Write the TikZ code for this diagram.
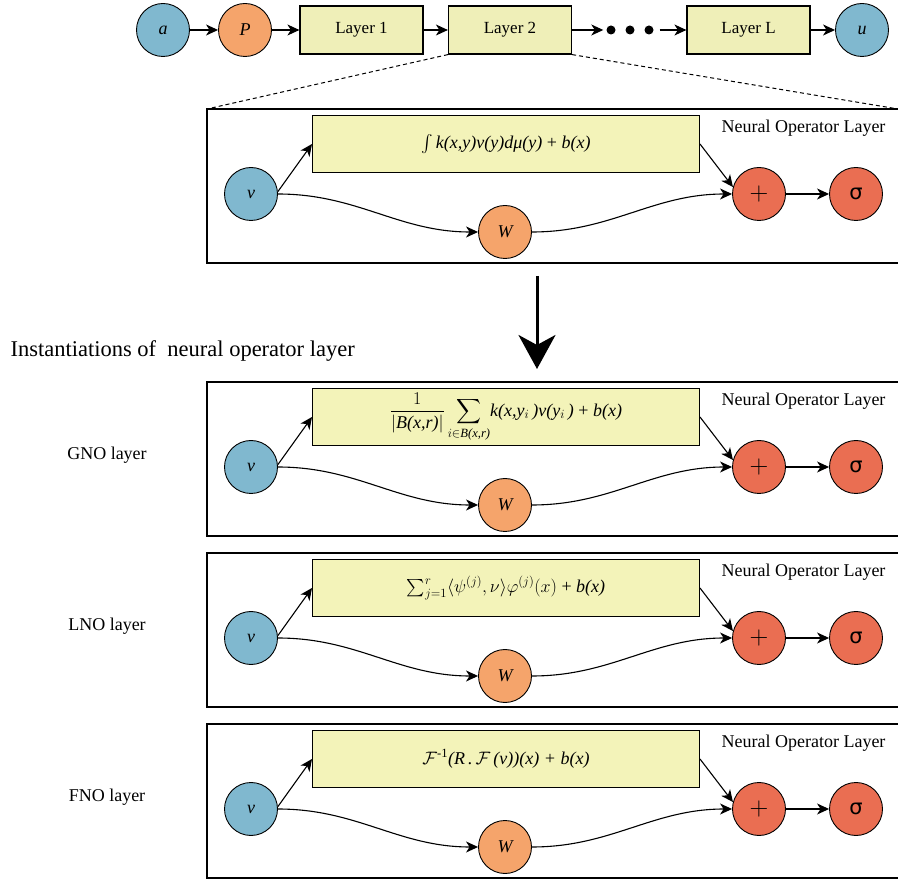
\RequirePackage{fix-cm}
\documentclass[tikz,border=0pt]{standalone}
\usepackage{amsmath}
\usepackage{fontspec}
\setmainfont{Liberation Serif}
\newfontfamily\symfont{DejaVu Sans}
\usetikzlibrary{arrows.meta}
\definecolor{cblue}{RGB}{128,184,207}
\definecolor{corange}{RGB}{245,164,107}
\definecolor{cyellow}{RGB}{239,239,184}
\definecolor{cyellow2}{RGB}{243,243,185}
\definecolor{cred}{RGB}{234,110,82}
\tikzset{
  circ/.style={circle, draw=black, line width=0.9pt, minimum size=53pt, inner sep=0pt, font=\fontsize{18}{20}\selectfont\itshape},
  lbox/.style={draw=black, line width=1.2pt, fill=cyellow, minimum width=123pt, minimum height=48pt, inner sep=0pt, font=\fontsize{17}{20}\selectfont},
  formbox/.style={draw=black, line width=1pt, fill=cyellow2, minimum width=387pt, minimum height=57pt, inner sep=0pt, font=\fontsize{18}{22}\selectfont},
  opframe/.style={draw=black, line width=1.4pt},
  arr/.style={-{Stealth[length=12pt,width=11pt,inset=3.5pt]}, line width=1.1pt},
  dotn/.style={circle, fill=black, minimum size=9pt, inner sep=0pt},
  lbl/.style={font=\fontsize{18}{20}\selectfont},
}
\newcommand\NOLayer[3]{%
  \draw[opframe] (207,#1) rectangle (912,{#1+154});
  \node[formbox] (f#2) at (506,{#1+35}) {#3};
  \node[circ, fill=cblue] (v#2) at (251,{#1+85}) {v};
  \node[circ, fill=corange] (w#2) at (505,{#1+123}) {W};
  \node[circ, fill=cred, font=\fontsize{26}{26}\selectfont] (p#2) at (759,{#1+85}) {$+$};
  \node[circ, fill=cred, font=\fontsize{21}{21}\symfont] (s#2) at (856,{#1+85}) {σ};
  \node[lbl, anchor=east] (t#2) at (889,{#1+19}) {Neural Operator Layer};
  \draw[arr] (v#2.5) -- (f#2.west);
  \draw[arr] (v#2.east) to[out=0,in=180] (w#2.west);
  \draw[arr] (w#2.east) to[out=0,in=180] (p#2.west);
  \draw[arr] (f#2.east) -- (p#2.165);
  \draw[arr] (p#2.east) -- (s#2.west);
}
\begin{document}
\begin{tikzpicture}[x=1pt,y=-1pt]
\useasboundingbox[fill=white] (0,0) rectangle (898,882);
% top row
\node[circ, fill=cblue] (a) at (163,30) {a};
\node[circ, fill=corange] (P) at (245,30) {P};
\node[lbox] (L1) at (361.5,30) {Layer 1};
\node[lbox] (L2) at (510,30) {Layer 2};
\node[dotn] (d1) at (611,30) {};
\node[dotn] (d2) at (630,30) {};
\node[dotn] (d3) at (649,30) {};
\node[lbox] (LL) at (748.5,30) {Layer L};
\node[circ, fill=cblue] (u) at (862,30) {u};
\draw[arr] (a) -- (P);
\draw[arr] (P) -- (L1);
\draw[arr] (L1) -- (L2);
\draw[arr, shorten >=3pt] (L2.east) -- (d1.west);
\draw[arr, shorten <=6pt] (d3.east) -- (LL.west);
\draw[arr] (LL) -- (u);
% zoom lines
\coordinate (tl) at (207,109);
\coordinate (tr) at (898,109);
\draw[dash pattern=on 4pt off 3pt, line width=1pt] (L2.south west) -- (tl);
\draw[dash pattern=on 4pt off 3pt, line width=1pt] (L2.south east) -- (tr);
% layer boxes
\NOLayer{109}{a}{$\int$\,\textit{k(x,y)v(y)dμ(y)} + \textit{b(x)}}
\NOLayer{382}{b}{$\dfrac{1}{|\textit{B(x,r)}|}\displaystyle\sum_{i\in\textit{B(x,r)}}$\textit{k(x,y$_i$\,)v(y$_i$\,)} + \textit{b(x)}}
\NOLayer{553}{c}{$\sum_{j=1}^{r}\langle\psi^{(j)},\nu\rangle\varphi^{(j)}(x)$ + \textit{b(x)}}
\NOLayer{724}{d}{$\mathcal{F}^{\text{-1}}$\textit{(R\,.\,}$\mathcal{F}$\,\textit{(v))(x) + b(x)}}
% big arrow
\coordinate (as) at (537,276);
\coordinate (ae) at (537,369);
\draw[line width=3pt, -{Stealth[length=34pt,width=37pt,inset=10pt]}] (as) -- (ae);
% labels
\node[anchor=west, font=\fontsize{22.5}{26}\selectfont] (inst) at (7,351) {Instantiations of\ \ neural operator layer};
\node[lbl] (gno) at (107,455) {GNO layer};
\node[lbl] (lno) at (107,626) {LNO layer};
\node[lbl] (fno) at (107,797) {FNO layer};
\end{tikzpicture}
\end{document}
